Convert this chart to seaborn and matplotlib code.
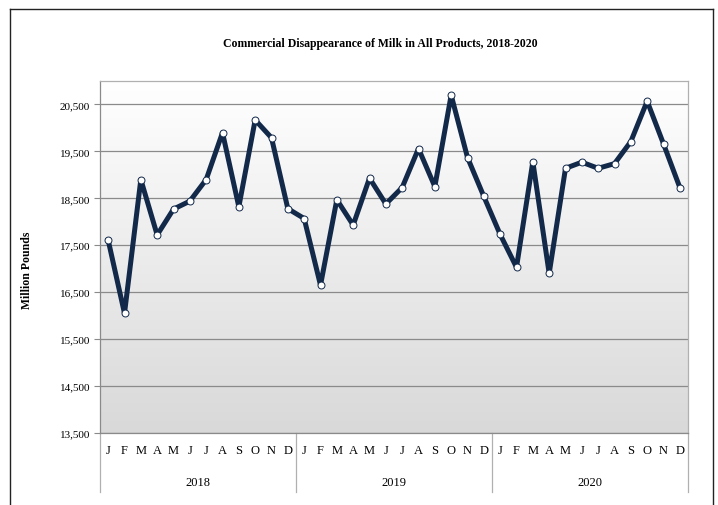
import numpy as np
import pandas as pd
import matplotlib
matplotlib.use("Agg")
import matplotlib.pyplot as plt
import matplotlib.transforms as mtransforms
from matplotlib.lines import Line2D
import seaborn as sns

# ---- data ----
years = ["2018", "2019", "2020"]
months = ["J", "F", "M", "A", "M", "J", "J", "A", "S", "O", "N", "D"]
v2018 = [17610, 16050, 18900, 17720, 18270, 18440, 18900, 19900, 18320, 20170, 19790, 18280]
v2019 = [18070, 16650, 18470, 17930, 18930, 18380, 18730, 19560, 18750, 20700, 19370, 18540]
v2020 = [17730, 17030, 19280, 16900, 19140, 19270, 19140, 19240, 19710, 20570, 19660, 18730]
yticks = [13500, 14500, 15500, 16500, 17500, 18500, 19500, 20500]
title = "Commercial Disappearance of Milk in All Products, 2018-2020"
ylabel = "Million Pounds"

values = v2018 + v2019 + v2020
df = pd.DataFrame({
    "pos": np.arange(len(values)) + 0.5,
    "value": values,
})

plt.rcParams["font.family"] = ["Liberation Serif", "DejaVu Serif"]

W, H = 718, 506
fig = plt.figure(figsize=(W / 100, H / 100), dpi=100)
fig.patch.set_facecolor("white")
ax = fig.add_axes([100 / W, 1 - 434 / H, 588 / W, 352 / H])

ymin, ymax = 13500, 21000
n = len(values)

# gradient background
grad = np.linspace(1.0, 0.0, 256).reshape(-1, 1)
top = np.array([1.0, 1.0, 1.0])
bot = np.array([0.85, 0.85, 0.85])
img = (grad[..., None] * top + (1 - grad[..., None]) * bot)
ax.imshow(img, extent=[0, n, ymin, ymax], aspect="auto", origin="upper", zorder=0)

navy = "#12294a"
sns.lineplot(data=df, x="pos", y="value", ax=ax, color=navy, lw=3.6,
             marker="o", markersize=5, markerfacecolor="white",
             markeredgecolor=navy, markeredgewidth=0.7, zorder=3)

ax.set_xlim(0, n)
ax.set_ylim(ymin, ymax)
ax.set_yticks(yticks)
ax.set_yticklabels([f"{t:,}" for t in yticks], fontsize=8)
ax.yaxis.grid(True, color="#8a8a8a", lw=0.9)
ax.set_axisbelow(True)
ax.tick_params(axis="y", length=4, width=0.8, color="#8a8a8a", pad=3)

ax.set_xticks(df["pos"])
ax.set_xticklabels(months * len(years), fontsize=9)
ax.tick_params(axis="x", length=0, pad=8)
ax.set_xlabel("")
ax.set_ylabel("")

for side in ["top", "right"]:
    ax.spines[side].set_color("#b0b0b0")
    ax.spines[side].set_linewidth(0.9)
ax.spines["left"].set_color("#8a8a8a")
ax.spines["bottom"].set_color("#8a8a8a")
ax.spines["left"].set_linewidth(0.9)
ax.spines["bottom"].set_linewidth(0.9)

# year group labels and separators
trans = mtransforms.blended_transform_factory(ax.transData, ax.transAxes)
for i, yr in enumerate(years):
    ax.text(i * 12 + 6, -(483 - 434) / 352, yr, transform=trans,
            ha="center", va="center", fontsize=9)
for b in range(len(years) + 1):
    ax.add_line(Line2D([b * 12, b * 12], [0, -(493 - 434) / 352], transform=trans,
                       color="#b0b0b0", lw=0.9, clip_on=False))

fig.text(380 / W, 1 - 43.5 / H, title, ha="center", va="center",
         fontsize=8.5, fontweight="bold")
fig.text(27 / W, 1 - 270 / H, ylabel, ha="center", va="center",
         rotation=90, fontsize=8.5, fontweight="bold")

# outer frame
fig.add_artist(Line2D([9.5 / W, 9.5 / W], [0, 1 - 10 / H], transform=fig.transFigure,
                      color="#222222", lw=1.0))
fig.add_artist(Line2D([9.5 / W, 713 / W], [1 - 10 / H, 1 - 10 / H], transform=fig.transFigure,
                      color="#222222", lw=1.0))
fig.add_artist(Line2D([713 / W, 713 / W], [0, 1 - 10 / H], transform=fig.transFigure,
                      color="#222222", lw=1.0))

fig.savefig("out.png", dpi=100)
